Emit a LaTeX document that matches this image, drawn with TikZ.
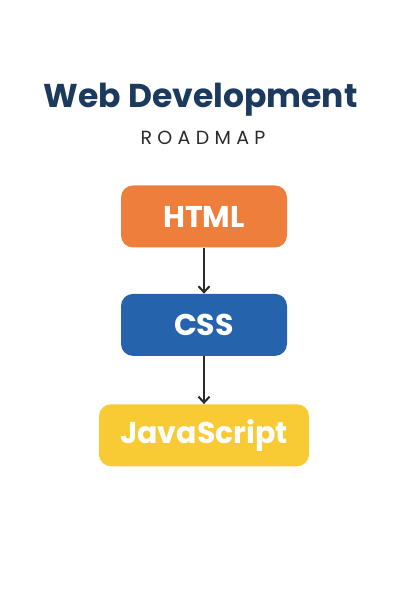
\documentclass[tikz,border=0pt]{standalone}
\usepackage{fontspec}
\setmainfont{Poppins}
\usepackage{tikz}
\usetikzlibrary{positioning, arrows.meta}
\definecolor{htmlorange}{HTML}{EE7E3C}
\definecolor{cssblue}{HTML}{2663AD}
\definecolor{jsyellow}{HTML}{F8CB35}
\definecolor{titlenavy}{HTML}{1B3A5D}
\definecolor{subgray}{HTML}{2B2B2B}
\tikzset{
    stage/.style={rectangle, rounded corners=12pt, draw=none, text=white, align=center, minimum height=62pt, font=\fontsize{30}{32}\selectfont\bfseries},
    title/.style={font=\fontsize{33}{38}\selectfont\bfseries, color=titlenavy, anchor=base},
    subtitle/.style={font=\fontsize{19}{22}\selectfont\addfontfeature{LetterSpace=28}, color=subgray, anchor=base},
    arrow/.style={-{Straight Barb[length=6pt, width=11pt, line width=2pt]}, line width=2pt, color=subgray}
}
\begin{document}
\begin{tikzpicture}[node distance=46pt]
        \useasboundingbox[fill=white] (0,0) rectangle (408pt,612pt);
        % Title
        \node[title] (Title) at (200.5pt,504pt) {Web Development};
        \node[subtitle] (Sub) at (203pt,467pt) {ROADMAP};
        
        % Stages
        \node[stage, fill=htmlorange, minimum width=166pt] (HTML) at (204pt,395.5pt) {HTML};
        \node[stage, fill=cssblue, minimum width=166pt, below=of HTML] (CSS) {CSS};
        \node[stage, fill=jsyellow, minimum width=210pt, below=48pt of CSS] (JS) {JavaScript};
        
        % Arrows
        \draw[arrow] (HTML) -- (CSS);
        \draw[arrow] (CSS) -- (JS);
    \end{tikzpicture}
\end{document}
